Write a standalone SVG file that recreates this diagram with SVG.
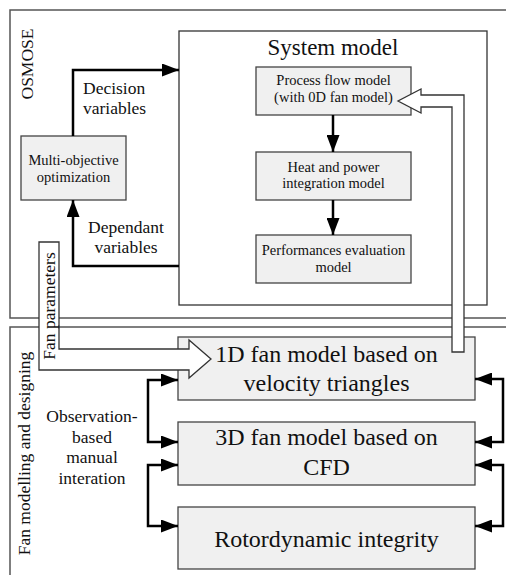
<svg xmlns="http://www.w3.org/2000/svg" width="506" height="575" viewBox="0 0 506 575" font-family="'Liberation Serif', 'DejaVu Serif', serif">
  <style>
    text { font-family: 'Liberation Serif', 'DejaVu Serif', serif; fill: #111; }
    .frame { fill: none; stroke: #555; stroke-width: 1.5; }
    .box { fill: #f0f0f0; stroke: #444; stroke-width: 1.3; }
    .sm { font-size: 14.5px; text-anchor: middle; }
    .md { font-size: 17.5px; }
    .lg { font-size: 24px; text-anchor: middle; }
    .wire { fill: none; stroke: #000; stroke-width: 2.5; }
    .hollow { fill: #fff; stroke: #333; stroke-width: 1.3; stroke-linejoin: miter; }
  </style>
  <defs>
    <marker id="head" markerUnits="userSpaceOnUse" markerWidth="17" markerHeight="13" refX="17" refY="6.5" orient="auto-start-reverse">
      <path d="M0,0 L17,6.5 L0,13 Z" fill="#000"/>
    </marker>
  </defs>

  <!-- containers -->
  <g id="osmose">
    <rect class="frame" x="10" y="10" width="520" height="308"/>
    <text class="md" text-anchor="middle" transform="translate(32.5,64) rotate(-90)">OSMOSE</text>
  </g>
  <g id="fan-design">
    <rect class="frame" x="10" y="327" width="520" height="270"/>
    <text class="md" text-anchor="middle" transform="translate(29.5,453.5) rotate(-90)">Fan modelling and designing</text>
  </g>
  <g id="system-model">
    <rect x="179" y="31" width="308" height="274" fill="#fff" stroke="#333" stroke-width="1.3"/>
    <text x="333" y="55" font-size="23px" text-anchor="middle">System model</text>
  </g>

  <!-- nodes -->
  <g id="optimizer">
    <rect class="box" x="21" y="136" width="105" height="64"/>
    <text class="sm" x="73.5" y="165">Multi-objective</text>
    <text class="sm" x="73.5" y="182">optimization</text>
  </g>
  <g id="process-flow">
    <rect class="box" x="256" y="67" width="155" height="48"/>
    <text class="sm" x="333.5" y="85">Process flow model</text>
    <text class="sm" x="333.5" y="102">(with 0D fan model)</text>
  </g>
  <g id="heat-power">
    <rect class="box" x="256" y="152" width="155" height="48"/>
    <text class="sm" x="333.5" y="172">Heat and power</text>
    <text class="sm" x="333.5" y="188">integration model</text>
  </g>
  <g id="performance">
    <rect class="box" x="256" y="235" width="155" height="48"/>
    <text class="sm" x="333.5" y="255">Performances evaluation</text>
    <text class="sm" x="333.5" y="272">model</text>
  </g>
  <g id="fan-1d">
    <rect class="box" x="178" y="337" width="297" height="63"/>
    <text class="lg" x="326.5" y="362">1D fan model based on</text>
    <text class="lg" x="326.5" y="391">velocity triangles</text>
  </g>
  <g id="fan-3d">
    <rect class="box" x="178" y="422" width="297" height="63"/>
    <text class="lg" x="326.5" y="445">3D fan model based on</text>
    <text class="lg" x="326.5" y="475">CFD</text>
  </g>
  <g id="rotordynamic">
    <rect class="box" x="178" y="507" width="297" height="62"/>
    <text class="lg" x="326.5" y="547">Rotordynamic integrity</text>
  </g>

  <!-- connectors -->
  <g id="connectors">
    <path class="wire" d="M73,136 V70 H179" marker-end="url(#head)"/>
    <path class="wire" d="M179,266 H73 V200" marker-end="url(#head)"/>
    <path class="wire" d="M333,115 V152" marker-end="url(#head)"/>
    <path class="wire" d="M333,200 V235" marker-end="url(#head)"/>
    <path class="wire" d="M178,380 H148 V442 H178" marker-start="url(#head)" marker-end="url(#head)"/>
    <path class="wire" d="M178,465 H148 V526 H178" marker-start="url(#head)" marker-end="url(#head)"/>
    <path class="wire" d="M475,379 H503 V442 H475" marker-start="url(#head)" marker-end="url(#head)"/>
    <path class="wire" d="M475,465 H503 V526 H475" marker-start="url(#head)" marker-end="url(#head)"/>
    <!-- wide hollow arrows -->
    <path class="hollow" d="M39,242 L59,242 L59,349 L189,349 L189,340 L211,359 L189,378 L189,370 L39,370 Z"/>
    <path class="hollow" d="M452,352 L464,352 L464,95 L421,95 L421,89 L398,101 L421,113 L421,107 L452,107 Z"/>
  </g>

  <!-- connector labels -->
  <g id="labels">
    <text class="md" x="83" y="94">Decision</text>
    <text class="md" x="83" y="114">variables</text>
    <text class="md" x="126" y="233" text-anchor="middle">Dependant</text>
    <text class="md" x="126" y="253" text-anchor="middle">variables</text>
    <text class="md" text-anchor="middle" transform="translate(54.5,306) rotate(-90)">Fan parameters</text>
    <text class="md" x="92" y="422" text-anchor="middle">Observation-</text>
    <text class="md" x="92" y="443" text-anchor="middle">based</text>
    <text class="md" x="92" y="463" text-anchor="middle">manual</text>
    <text class="md" x="92" y="484" text-anchor="middle">interation</text>
  </g>
</svg>
